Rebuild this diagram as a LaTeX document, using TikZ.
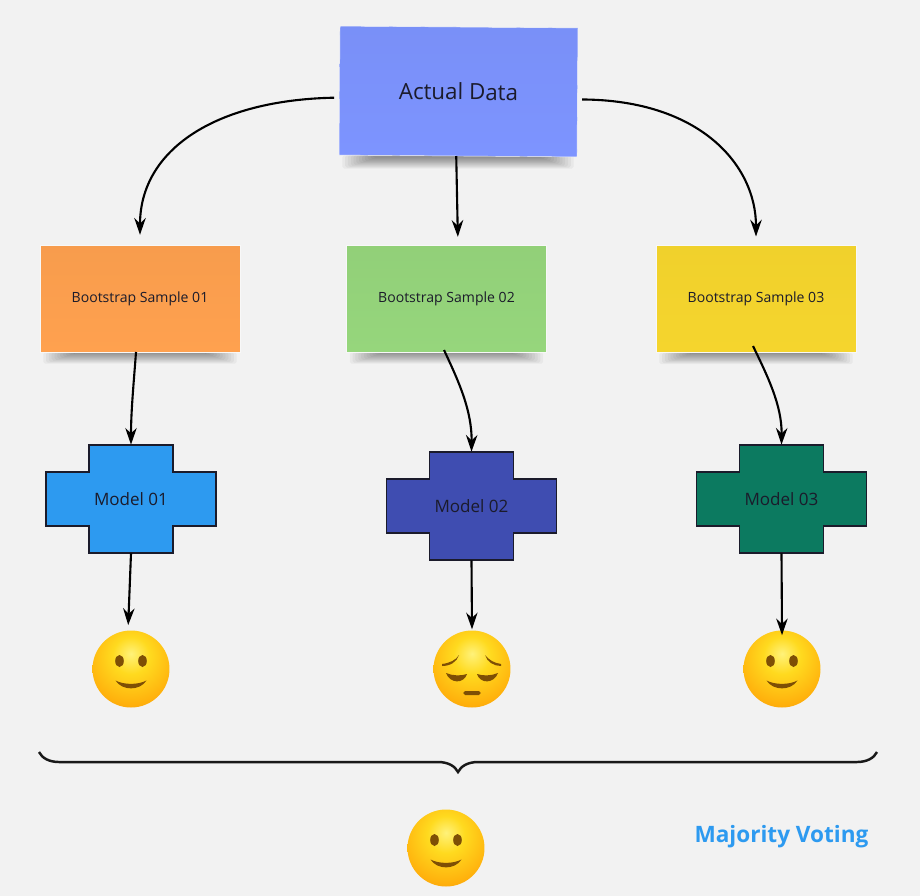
\documentclass[tikz,border=0pt]{standalone}
\usepackage{fontspec}
\setmainfont{Open Sans}
\usepackage{xcolor}
\usetikzlibrary{arrows.meta,positioning,backgrounds,decorations.pathreplacing}
\definecolor{pagegray}{HTML}{F2F2F2}
\definecolor{inkdark}{HTML}{1B1B2B}
\definecolor{actualblue}{HTML}{7D94FF}
\definecolor{sampleorange}{HTML}{FFA14F}
\definecolor{samplegreen}{HTML}{96D67C}
\definecolor{sampleyellow}{HTML}{F5D52D}
\definecolor{modelblue}{HTML}{2D9AF0}
\definecolor{modelindigo}{HTML}{3F4DB1}
\definecolor{modelteal}{HTML}{0C7A60}
\definecolor{facebrown}{HTML}{7E4F05}
\definecolor{faceglow}{HTML}{FFF27A}
\definecolor{facemid}{HTML}{FFDA1F}
\definecolor{facewarm}{HTML}{FFB00C}
\definecolor{faceedge}{HTML}{E87F04}
\pgfdeclareradialshading{emojiface}{\pgfpoint{0bp}{10bp}}{%
  color(0bp)=(faceglow);
  color(12bp)=(facemid);
  color(30bp)=(facewarm);
  color(46bp)=(faceedge);
  color(100bp)=(faceedge)}
\tikzset{
  notebox/.style={draw=white!50!pagegray,line width=0.25pt,text=inkdark,align=center,inner sep=0pt},
  actualnote/.style={notebox,minimum width=4.76cm,minimum height=2.58cm,rotate=-0.45,
    top color=actualblue!97!black,bottom color=actualblue,font=\fontsize{12.7}{15}\selectfont},
  samplenote/.style={notebox,minimum width=4cm,minimum height=2.14cm,font=\fontsize{8}{10}\selectfont},
  modelpath/.style={draw=inkdark,line width=1.1pt,line join=miter},
  modellabel/.style={minimum width=3.4cm,minimum height=2.16cm,inner sep=0pt,text=inkdark,font=\fontsize{9.7}{12}\selectfont},
  facenode/.style={circle,minimum size=1.54cm,inner sep=0pt,shading=emojiface},
  flowedge/.style={-{Stealth[length=9.5pt,width=6.5pt]},line width=1.2pt,black},
  smile/.pic={
    \fill[facebrown] (-11.5,-8) ellipse (4.3 and 6);
    \fill[facebrown] (11.5,-8) ellipse (4.3 and 6);
    \fill[facebrown] (-15.5,11.5) .. controls (-7,16) and (7,16) .. (15.5,11.5)
      .. controls (9,22) and (-9,22) .. cycle;
  },
  sadface/.pic={
    \fill[facebrown] (-30,-5) .. controls (-22,-6) and (-16,-9) .. (-13,-14)
      .. controls (-15,-7) and (-22,-3) .. (-30,-3) -- cycle;
    \fill[facebrown] (29,-5) .. controls (22,-6) and (17,-9) .. (13,-14)
      .. controls (15,-7) and (22,-3) .. (29,-3) -- cycle;
    \fill[facebrown] (-26,4) .. controls (-19,7) and (-11,7) .. (-5,5)
      .. controls (-8,15) and (-22,15) .. cycle;
    \fill[facebrown] (26,4) .. controls (19,7) and (11,7) .. (5,5)
      .. controls (8,15) and (22,15) .. cycle;
    \fill[facebrown,rounded corners=1pt] (-8.7,22) rectangle (8.7,26);
  },
}
% cross shaped model box, label node on top for the arrows
\newcommand{\modelcross}[4]{%
  \filldraw[modelpath,fill=#3,shift={(#2)}] (-42,-54) -- (42,-54) -- (42,-27) -- (85,-27) -- (85,27)
    -- (42,27) -- (42,54) -- (-42,54) -- (-42,27) -- (-85,27) -- (-85,-27) -- (-42,-27) -- cycle;
  \node[modellabel] (#1) at (#2) {#4};
}
% soft shadow under a note, stacked see-through strips
\newcommand{\noteshadow}[1]{%
  \foreach \i in {0,...,11} {
    \fill[black,opacity=0.04,rounded corners=1pt] ([xshift=2pt+\i*1.6pt]#1.south west)
      rectangle ([xshift=-2pt-\i*1.6pt,yshift=-6.5pt+\i*0.55pt]#1.south east);
  }
}

\begin{document}
\begin{tikzpicture}[x=0.02cm,y=-0.02cm]
    \useasboundingbox (0,0) rectangle (920,896);
    % notes
    \node[actualnote] (actual) at (458.5,91.5) {Actual Data};
    \node[samplenote,top color=sampleorange!97!black,bottom color=sampleorange] (sample1) at (140,298.5) {Bootstrap Sample 01};
    \node[samplenote,top color=samplegreen!97!black,bottom color=samplegreen] (sample2) at (446.5,298.5) {Bootstrap Sample 02};
    \node[samplenote,top color=sampleyellow!98!black,bottom color=sampleyellow] (sample3) at (756,299) {Bootstrap Sample 03};
    % models
    \modelcross{model1}{131,499}{modelblue}{Model 01}
    \modelcross{model2}{471.5,506}{modelindigo}{Model 02}
    \modelcross{model3}{781.5,499}{modelteal}{Model 03}
    % faces
    \node[facenode] (face1) at (131,669) {};
    \node[facenode] (face2) at (472,669) {};
    \node[facenode] (face3) at (782,669) {};
    \node[facenode] (vote) at (446,848) {};
    \pic at (face1) {smile};
    \pic at (face2) {sadface};
    \pic at (face3) {smile};
    \pic at (vote) {smile};
    \node[font=\fontsize{12.85}{15}\selectfont\bfseries,text=modelblue] (votelabel) at (781.5,836.5) {Majority Voting};
    % brace
    \coordinate (braceL) at (39,752);
    \coordinate (braceR) at (877,752);
    \draw[line width=1.4pt,black!90,decorate,decoration={brace,mirror,amplitude=11.4pt}] (braceL) -- (braceR);
    % arrows
    \draw[flowedge,shorten <=3pt,shorten >=5.7pt] ([yshift=-4pt]actual.west) .. controls (215,100) and (140,150) .. (sample1.north);
    \draw[flowedge,shorten >=4.5pt] ([xshift=-1pt]actual.south) -- (sample2.north -| 458,0);
    \draw[flowedge,shorten <=2.5pt,shorten >=5pt] ([yshift=-4pt]actual.east) .. controls (700,100) and (756,165) .. (sample3.north);
    \draw[flowedge] (136,352) .. controls (134,380) and (131,410) .. (model1.north);
    \draw[flowedge] (444,350) .. controls (458,380) and (472,410) .. (model2.north);
    \draw[flowedge] (753,346) .. controls (767,375) and (782,405) .. (model3.north);
    \draw[flowedge,shorten >=2.9pt] (model1.south) -- (face1.north -| 128,0);
    \draw[flowedge,shorten >=0.5pt] (model2.south) -- (face2.north);
    \draw[flowedge,shorten >=-2.9pt] (model3.south) -- (face3.north);
    \begin{scope}[on background layer]
      \fill[pagegray] (0,0) rectangle (920,896);
      \noteshadow{actual}
      \noteshadow{sample1}
      \noteshadow{sample2}
      \noteshadow{sample3}
    \end{scope}
\end{tikzpicture}
\end{document}
